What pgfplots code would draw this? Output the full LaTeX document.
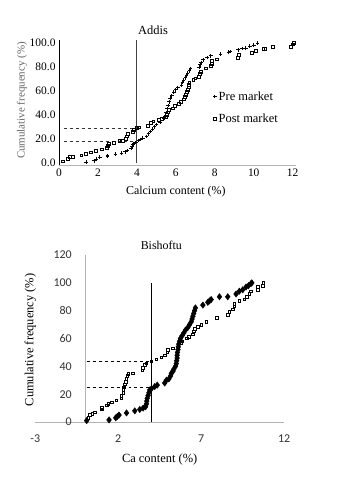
\documentclass[border=0pt]{standalone}
\usepackage{fontspec}
\setmainfont{Liberation Serif}
\newfontfamily\calibri{Carlito}
\usepackage{pgfplots}
\pgfplotsset{compat=1.18}
\begin{document}
\begin{tikzpicture}[x=1bp,y=1bp]
\path (0,0) rectangle (340,477);
% ---------------- Top: Addis ----------------
\begin{axis}[
  at={(59bp,312bp)}, anchor=south west,
  scale only axis, width=236.6bp, height=125.3bp,
  xmin=0, xmax=12.15, ymin=-2, ymax=103,
  axis x line=bottom, axis y line=left,
  x axis line style={-, draw=black!30},
  y axis line style={-, draw=black},
  xtick={0,2,...,12}, ytick={0,20,...,100},
  major tick length=0pt,
  /pgf/number format/assume math mode=true,
  yticklabel style={/pgf/number format/.cd, fixed, fixed zerofill, precision=1},
  tick label style={font=\fontsize{11.5}{12}\selectfont},
  every axis y label/.style={at={(axis cs:-1.9,52)}, rotate=90, anchor=center, font=\fontsize{11}{12}\selectfont, text=black!60},
  every axis x label/.style={at={(axis cs:6.0,-24)}, anchor=center, font=\fontsize{12}{13}\selectfont},
  every axis title/.style={at={(axis cs:4.83,111)}, anchor=center, font=\fontsize{12.5}{13}\selectfont},
  ylabel={Cumulative frequency (\%)},
  xlabel={Calcium content (\%)},
  title={Addis},
  legend style={at={(axis cs:7.75,63)}, anchor=north west, draw=none, fill=none, font=\fontsize{12.5}{13}\selectfont, row sep=8bp},
  legend cell align=left,
  clip=false,
]
\addplot[only marks, mark=+, mark size=1.8bp, black, line width=1bp] coordinates {
(1.4,0.5) (1.8,1.5) (1.9,3) (2.1,4.5) (2.5,5) (2.5,6) (2.9,7) (3.2,8) (3.4,9) (3.5,10)
(3.7,12) (3.75,13.5) (3.8,15) (3.85,16) (3.95,17) (4.1,18.5) (4.2,19.5) (4.3,20.5) (4.5,22) (4.6,24)
(4.7,26) (4.8,28) (4.9,30) (5.0,32) (5.2,34) (5.4,37) (5.45,39) (5.5,42) (5.55,45) (5.6,48)
(5.65,51) (5.7,54) (5.8,56) (5.9,59) (6.0,61) (6.1,63) (6.3,65) (6.35,67) (6.4,69) (6.5,71)
(6.55,73) (6.6,75) (6.7,77) (6.75,79) (7.2,80) (7.25,82) (7.3,84) (7.4,86) (7.6,88) (7.8,89.5)
(8.3,91) (8.7,92.5) (8.8,93) (9.2,94.5) (9.4,95.5) (9.6,96) (9.8,97.5) (10.0,98.5) (10.2,100)
};
\addlegendentry{Pre market}
\addplot[only marks, mark=square, mark size=1.4bp, black, fill=white, line width=0.8bp] coordinates {
(0.2,1) (0.45,3) (0.55,4.5) (0.7,4.5) (1.15,6) (1.4,7.5) (1.65,8.5) (1.9,9.5) (2.2,11) (2.45,12)
(2.5,14) (2.55,15.5) (2.8,16.5) (3.1,18) (3.3,18) (3.45,20) (3.5,22) (3.55,24) (3.8,26) (3.85,27.5)
(4.0,29) (4.1,29.5) (4.55,31) (4.7,33) (4.85,34.5) (5.15,35.5) (5.3,36.5) (5.5,38) (5.55,40) (5.6,42)
(5.65,44) (5.85,45.5) (5.95,47.5) (6.15,49.5) (6.25,51) (6.4,53) (6.45,55) (6.5,57) (6.55,59) (6.6,61)
(6.65,63) (6.65,65) (6.7,67) (6.9,69) (7.0,70.5) (7.2,72) (7.25,74) (7.3,76) (7.55,79) (7.8,81)
(7.85,83) (7.85,85) (8.1,86.5) (9.2,88) (9.25,90) (9.9,92) (10.1,93.5) (10.5,95.5) (10.6,95.5) (11.0,97)
(11.9,97) (12.0,99) (12.05,100)
};
\addlegendentry{Post market}
\addplot[black!75, line width=0.8bp, forget plot] coordinates {(4,0) (4,103)};
\addplot[black!80, dashed, line width=0.7bp, forget plot] coordinates {(0.25,28.8) (4,28.8)};
\addplot[black!80, dashed, line width=0.7bp, forget plot] coordinates {(0.25,18.2) (4,18.2)};
\end{axis}
% ---------------- Bottom: Bishoftu ----------------
\begin{axis}[
  at={(35.2bp,55bp)}, anchor=south west,
  scale only axis, width=249bp, height=167bp,
  xmin=-3, xmax=12, ymin=0, ymax=120,
  axis x line=bottom, axis y line=left,
  x axis line style={-, draw=black!30},
  y axis line style={draw=none},
  xtick={-3,2,7,12}, ytick={0,20,...,120},
  major tick length=0pt,
  /pgf/number format/assume math mode=true,
  tick label style={font=\calibri\fontsize{12}{13}\selectfont, text=black!80},
  xticklabel style={yshift=-9bp},
  yticklabel style={xshift=40bp},
  every axis y label/.style={at={(axis cs:-3.3,59)}, rotate=90, anchor=center, font=\fontsize{12.5}{13}\selectfont},
  every axis x label/.style={at={(axis cs:4.5,-26.6)}, anchor=center, font=\fontsize{12.5}{13}\selectfont},
  every axis title/.style={at={(axis cs:4.6,126.6)}, anchor=center, font=\fontsize{12}{13}\selectfont},
  ylabel={Cumulative frequency (\%)},
  xlabel={Ca content (\%)},
  title={Bishoftu},
  clip=false,
]
\addplot[black!30, line width=0.6bp] coordinates {(0,0) (0,120)};
\addplot[black, line width=0.8bp] coordinates {(4,0) (4,100)};
\addplot[black, dashed, line width=0.7bp] coordinates {(0.1,43.3) (4,43.3)};
\addplot[black, dashed, line width=0.7bp] coordinates {(0.1,25) (4,25)};
\addplot[only marks, mark=diamond*, mark size=3.2bp, black] coordinates {
(0.1,1) (1.45,1.5) (1.85,3) (1.95,4) (2.05,5) (2.5,6.5) (3.0,8) (3.3,9) (3.5,10) (3.65,11)
(3.7,13) (3.72,15) (3.75,17) (3.8,19) (3.85,21) (3.9,23) (4.0,24) (4.2,25.5) (4.35,26.5) (4.8,28)
(4.9,30) (5.05,31) (5.15,33) (5.2,35) (5.3,36.5) (5.35,38) (5.45,40) (5.5,42) (5.52,44) (5.55,46)
(5.55,48) (5.57,50) (5.6,52) (5.62,54) (5.65,56) (5.7,58) (5.75,60) (5.85,62) (5.95,64) (6.05,66)
(6.2,68) (6.3,70) (6.4,72) (6.45,74) (6.5,76) (6.55,78) (6.6,80) (6.65,82) (7.1,84) (7.4,86)
(7.5,87) (7.6,88) (8.1,90) (8.6,90) (9.1,92) (9.3,94) (9.5,95) (9.7,97) (9.85,98) (10.0,99.5) (10.05,100)
};
\addplot[only marks, mark=square, mark size=1.3bp, black, fill=white, line width=0.7bp] coordinates {
(0.2,3) (0.3,5) (0.45,6) (0.6,7) (1.0,9) (1.0,10) (1.3,12) (1.4,13) (1.6,14) (1.9,15.5)
(2.2,17) (2.2,19) (2.3,21) (2.3,23) (2.35,25) (2.4,27) (2.45,29) (2.5,31) (2.55,33) (2.6,34.5)
(2.9,35) (3.45,37) (3.5,39) (3.6,41) (3.7,42) (4.0,43.5) (4.3,45) (4.6,46.5) (4.8,48) (4.95,50)
(5.0,52) (5.3,53) (5.8,57) (5.85,58) (6.15,60) (6.25,61) (6.5,63) (6.55,65) (6.6,67) (6.8,68.5)
(7.0,70) (7.3,72) (7.95,75) (8.6,77) (8.7,79) (8.9,81) (9.0,83) (9.0,85) (9.3,87) (9.6,88)
(9.75,90) (9.9,92) (10.0,94) (10.4,95) (10.4,97) (10.7,98) (10.75,100)
};
\end{axis}
\end{tikzpicture}
\end{document}
